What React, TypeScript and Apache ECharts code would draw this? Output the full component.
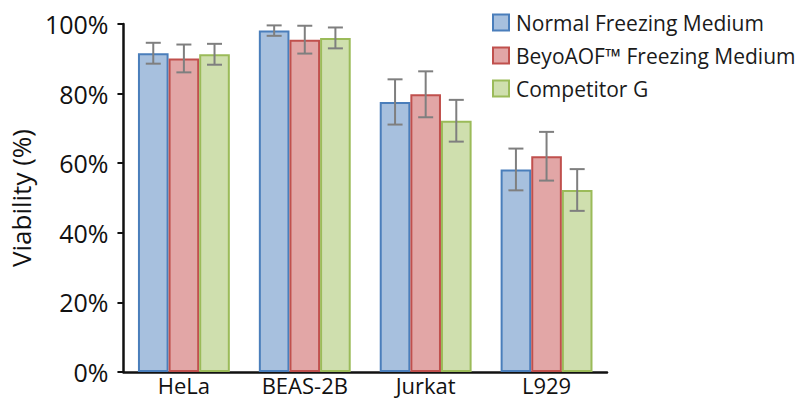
import React, { useEffect, useRef } from "react";
import * as echarts from "echarts";

const categories = ["HeLa", "BEAS-2B", "Jurkat", "L929"];
const seriesNames = ["Normal Freezing Medium", "BeyoAOF™ Freezing Medium", "Competitor G"];
const normalValues = [91.6, 98.1, 77.6, 58.2];
const beyoValues = [90.1, 95.5, 79.8, 62.0];
const competitorValues = [91.3, 96.0, 72.2, 52.3];
const normalErrors = [3.0, 1.5, 6.5, 6.0];
const beyoErrors = [4.0, 4.0, 6.6, 7.0];
const competitorErrors = [3.0, 3.0, 6.0, 6.0];
const yTicks = [0, 20, 40, 60, 80, 100];

const fills = ["#a7c0de", "#e2a6a6", "#cfdfae"];
const borders = ["#4a7ebb", "#c0504d", "#9bbb59"];

const FONT = "'Open Sans', 'Noto Sans', sans-serif";
const CAT_GAP = 0.24;

export default function App() {
  const ref = useRef<HTMLDivElement>(null);
  useEffect(() => {
    document.body.style.margin = "0";
    const chart = echarts.init(ref.current!, null, { renderer: "svg" });
    const values = [normalValues, beyoValues, competitorValues];
    const errors = [normalErrors, beyoErrors, competitorErrors];

    const barSeries = values.map((vals, i) => ({
      name: seriesNames[i],
      type: "bar",
      data: vals,
      barGap: "0%",
      barCategoryGap: `${CAT_GAP * 100}%`,
      itemStyle: { color: fills[i], borderColor: borders[i], borderWidth: 2 },
      z: 2,
    }));

    const errSeries = values.map((vals, i) => ({
      name: "err" + i,
      type: "custom",
      z: 5,
      data: vals.map((v, k) => [k, v - errors[i][k], v + errors[i][k]]),
      encode: { x: 0, y: [1, 2] },
      renderItem: (params: any, api: any) => {
        const cat = api.value(0);
        const lo = api.value(1);
        const hi = api.value(2);
        const pHi = api.coord([cat, hi]);
        const pLo = api.coord([cat, lo]);
        const band = api.size([1, 0])[0];
        const barW = (band * (1 - CAT_GAP)) / 3;
        const x = pHi[0] + (i - 1) * barW;
        const cap = 7.5;
        const style = { stroke: "#7f7f7f", lineWidth: 2 };
        return {
          type: "group",
          children: [
            { type: "line", shape: { x1: x, y1: pHi[1], x2: x, y2: pLo[1] }, style },
            { type: "line", shape: { x1: x - cap, y1: pHi[1], x2: x + cap, y2: pHi[1] }, style },
            { type: "line", shape: { x1: x - cap, y1: pLo[1], x2: x + cap, y2: pLo[1] }, style },
          ],
        };
      },
    }));

    chart.setOption({
      animation: false,
      backgroundColor: "#ffffff",
      grid: { left: 117, right: 200, top: 24, bottom: 29, containLabel: false },
      legend: {
        data: seriesNames,
        orient: "vertical",
        left: 487,
        top: 7,
        itemWidth: 16,
        itemHeight: 16,
        itemGap: 12,
        icon: "rect",
        textStyle: {
          fontSize: 21,
          color: "#1a1a1a",
          fontFamily: FONT,
          fontWeight: 500,
          padding: [0, 0, 0, 2],
        },
      },
      xAxis: {
        type: "category",
        data: categories,
        axisLine: { lineStyle: { color: "#111", width: 2.5 } },
        axisTick: { show: false },
        axisLabel: {
          interval: 0,
          fontSize: 22,
          lineHeight: 22,
          color: "#111",
          margin: 2,
          fontFamily: FONT,
          fontWeight: 500,
        },
      },
      yAxis: {
        type: "value",
        min: 0,
        max: 100,
        interval: 20,
        name: "Viability (%)",
        nameLocation: "middle",
        nameGap: 79,
        nameTextStyle: { fontSize: 26, color: "#111", fontFamily: FONT, fontWeight: 500 },
        axisLine: { show: true, lineStyle: { color: "#111", width: 2.5 } },
        axisTick: { show: true, length: 6, lineStyle: { color: "#111", width: 2 } },
        splitLine: { show: false },
        axisLabel: {
          fontSize: 25,
          color: "#111",
          margin: 15,
          fontFamily: FONT,
          fontWeight: 500,
          formatter: (v: number) => (yTicks.includes(v) ? `${v}%` : ""),
        },
      },
      series: [...barSeries, ...errSeries],
    });
    return () => chart.dispose();
  }, []);
  return <div ref={ref} style={{ width: 807, height: 401 }} />;
}
